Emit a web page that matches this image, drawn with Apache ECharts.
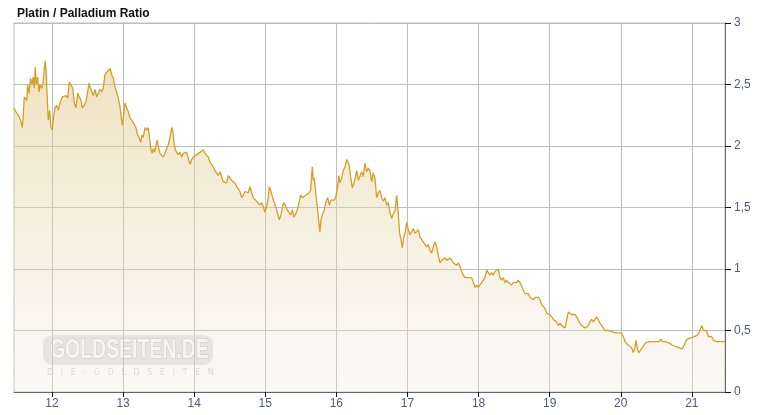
<!DOCTYPE html>
<html><head><meta charset="utf-8">
<script src="https://cdn.jsdelivr.net/npm/echarts@6/dist/echarts.min.js"></script>
<style>html,body{margin:0;padding:0;background:#fff}#c{width:757px;height:415px}</style>
</head><body><div id="c"></div>
<script>
const title = 'Platin / Palladium Ratio';
const yearTicks = [2012,2013,2014,2015,2016,2017,2018,2019,2020,2021];
const yTicks = [0,0.5,1,1.5,2,2.5,3];
const dates = [
2011.466,2011.480,2011.503,2011.536,2011.564,2011.582,2011.596,2011.610,2011.630,2011.644,2011.658,2011.677,2011.700,2011.719,2011.737,2011.751,2011.765,2011.779,2011.799,2011.817,2011.831,2011.855,2011.873,2011.892,2011.906,2011.920,2011.934,2011.948,2011.968,2011.986,
2012.004,2012.018,2012.042,2012.066,2012.089,2012.113,2012.145,2012.173,2012.197,2012.221,2012.243,2012.267,2012.291,2012.314,2012.338,2012.362,2012.384,2012.408,2012.426,2012.450,2012.478,2012.502,2012.520,2012.539,2012.563,2012.581,2012.605,2012.629,2012.651,2012.675,2012.699,2012.722,2012.745,2012.769,2012.792,2012.816,2012.840,2012.862,2012.886,2012.910,2012.933,2012.956,2012.971,2012.989,
2013.008,2013.026,2013.050,2013.073,2013.097,2013.121,2013.144,2013.181,2013.205,2013.224,2013.248,2013.266,2013.284,2013.308,2013.332,2013.354,2013.368,2013.392,2013.411,2013.425,2013.445,2013.463,2013.481,2013.501,2013.519,2013.543,2013.565,2013.589,2013.613,2013.636,2013.660,2013.684,2013.698,2013.716,2013.734,2013.754,2013.776,2013.800,2013.824,2013.847,2013.871,2013.895,2013.917,2013.941,2013.965,2013.987,
2014.011,2014.035,2014.058,2014.082,2014.106,2014.128,2014.152,2014.176,2014.198,2014.222,2014.246,2014.269,2014.293,2014.317,2014.339,2014.363,2014.387,2014.409,2014.433,2014.457,2014.480,2014.504,2014.528,2014.550,2014.574,2014.598,2014.620,2014.644,2014.668,2014.691,2014.715,2014.738,2014.761,2014.785,2014.809,2014.831,2014.855,2014.879,2014.902,2014.926,2014.949,2014.972,2014.996,
2015.020,2015.042,2015.056,2015.080,2015.104,2015.127,2015.150,2015.174,2015.197,2015.221,2015.245,2015.263,2015.287,2015.310,2015.333,2015.357,2015.380,2015.404,2015.428,2015.450,2015.474,2015.498,2015.520,2015.544,2015.568,2015.591,2015.615,2015.639,2015.661,2015.675,2015.689,2015.709,2015.731,2015.746,2015.769,2015.784,2015.807,2015.830,2015.854,2015.878,2015.900,2015.924,2015.948,2015.971,2015.994,
2016.018,2016.033,2016.051,2016.075,2016.097,2016.121,2016.145,2016.159,2016.177,2016.201,2016.224,2016.248,2016.272,2016.286,2016.308,2016.332,2016.356,2016.378,2016.402,2016.426,2016.449,2016.473,2016.497,2016.519,2016.543,2016.567,2016.590,2016.613,2016.637,2016.660,2016.684,2016.708,2016.730,2016.754,2016.778,2016.800,2016.824,2016.848,2016.871,2016.890,2016.909,2016.927,2016.947,2016.965,2016.989,
2017.011,2017.035,2017.059,2017.082,2017.106,2017.130,2017.152,2017.176,2017.200,2017.222,2017.246,2017.270,2017.293,2017.317,2017.341,2017.363,2017.387,2017.411,2017.433,2017.457,2017.481,2017.504,2017.528,2017.551,2017.574,2017.598,2017.622,2017.644,2017.668,2017.692,2017.715,2017.739,2017.763,2017.785,2017.809,2017.833,2017.855,2017.879,2017.903,2017.926,2017.950,2017.974,2017.996,
2018.020,2018.044,2018.066,2018.090,2018.114,2018.137,2018.161,2018.184,2018.207,2018.231,2018.255,2018.277,2018.301,2018.325,2018.348,2018.371,2018.395,2018.418,2018.442,2018.466,2018.488,2018.512,2018.536,2018.558,2018.582,2018.606,2018.629,2018.653,2018.677,2018.699,2018.723,2018.747,2018.770,2018.794,2018.817,2018.840,2018.864,2018.888,2018.910,2018.934,2018.958,2018.980,
2019.004,2019.028,2019.051,2019.074,2019.098,2019.121,2019.145,2019.169,2019.191,2019.215,2019.239,2019.262,2019.286,2019.310,2019.332,2019.356,2019.380,2019.402,2019.426,2019.450,2019.473,2019.497,2019.521,2019.543,2019.567,2019.591,2019.614,2019.637,2019.661,2019.684,2019.708,2019.732,2019.754,2019.778,2019.802,2019.824,2019.848,2019.872,2019.895,2019.919,2019.943,2019.965,2019.989,
2020.013,2020.035,2020.059,2020.083,2020.106,2020.130,2020.154,2020.176,2020.200,2020.214,2020.238,2020.256,2020.280,2020.303,2020.327,2020.350,2020.373,2020.397,2020.421,2020.443,2020.467,2020.491,2020.514,2020.537,2020.561,2020.584,2020.608,2020.632,2020.654,2020.678,2020.702,2020.725,2020.748,2020.772,2020.795,2020.819,2020.843,2020.865,2020.889,2020.913,2020.935,2020.959,2020.983,
2021.006,2021.030,2021.054,2021.076,2021.100,2021.124,2021.142,2021.160,2021.185,2021.208,2021.231,2021.255,2021.279,2021.301,2021.325,2021.349,2021.372,2021.395,2021.419,2021.442,2021.466
];
const ratio = [
2.31,2.29,2.27,2.24,2.20,2.15,2.24,2.40,2.41,2.37,2.50,2.43,2.55,2.50,2.56,2.47,2.64,2.50,2.56,2.44,2.50,2.47,2.50,2.63,2.69,2.58,2.39,2.21,2.29,2.15,
2.13,2.21,2.31,2.33,2.29,2.35,2.40,2.39,2.41,2.39,2.52,2.50,2.47,2.35,2.31,2.43,2.40,2.37,2.31,2.33,2.36,2.44,2.51,2.47,2.44,2.41,2.46,2.40,2.41,2.46,2.44,2.47,2.58,2.60,2.59,2.63,2.58,2.55,2.48,2.44,2.39,2.32,2.25,2.17,
2.25,2.35,2.35,2.28,2.23,2.24,2.19,2.15,2.09,2.07,2.03,2.09,2.07,2.15,2.13,2.15,2.09,1.97,1.94,1.98,1.95,2.01,2.05,1.98,1.94,1.93,1.91,1.94,1.98,2.01,2.07,2.15,2.13,2.03,1.97,1.95,1.93,1.95,1.91,1.94,1.93,1.95,1.90,1.85,1.89,1.91,
1.90,1.93,1.94,1.95,1.94,1.97,1.94,1.94,1.91,1.87,1.85,1.83,1.80,1.78,1.76,1.79,1.75,1.71,1.72,1.70,1.76,1.75,1.72,1.71,1.70,1.67,1.68,1.63,1.58,1.60,1.63,1.64,1.62,1.67,1.62,1.58,1.58,1.55,1.54,1.52,1.54,1.51,1.46,
1.51,1.58,1.67,1.63,1.58,1.54,1.50,1.45,1.40,1.44,1.51,1.54,1.51,1.48,1.46,1.44,1.48,1.42,1.45,1.48,1.54,1.60,1.58,1.59,1.60,1.59,1.62,1.64,1.83,1.72,1.74,1.62,1.51,1.42,1.30,1.40,1.45,1.48,1.55,1.58,1.52,1.56,1.55,1.56,1.59,
1.67,1.76,1.70,1.74,1.80,1.83,1.89,1.90,1.85,1.75,1.66,1.70,1.76,1.80,1.72,1.71,1.79,1.75,1.86,1.79,1.82,1.80,1.71,1.78,1.74,1.58,1.62,1.64,1.58,1.55,1.58,1.52,1.54,1.46,1.41,1.45,1.47,1.60,1.45,1.29,1.24,1.17,1.26,1.29,1.38,
1.32,1.28,1.30,1.33,1.29,1.30,1.32,1.26,1.25,1.22,1.20,1.18,1.20,1.15,1.13,1.18,1.22,1.18,1.11,1.05,1.07,1.06,1.09,1.07,1.06,1.09,1.07,1.05,1.06,1.03,1.05,1.02,0.98,0.95,0.93,0.93,0.93,0.93,0.93,0.93,0.85,0.87,0.85,
0.87,0.89,0.91,0.93,0.99,0.97,0.95,0.97,0.95,0.98,0.97,1.00,0.93,0.91,0.93,0.89,0.91,0.89,0.89,0.87,0.89,0.89,0.89,0.91,0.89,0.89,0.83,0.80,0.79,0.80,0.77,0.76,0.75,0.77,0.76,0.77,0.75,0.71,0.72,0.68,0.64,0.63,
0.63,0.61,0.59,0.60,0.57,0.54,0.56,0.54,0.53,0.52,0.53,0.65,0.64,0.63,0.64,0.63,0.61,0.60,0.56,0.54,0.53,0.52,0.53,0.54,0.57,0.59,0.57,0.59,0.61,0.60,0.56,0.54,0.53,0.50,0.51,0.50,0.50,0.49,0.49,0.48,0.47,0.48,0.49,
0.48,0.45,0.41,0.40,0.38,0.37,0.36,0.32,0.36,0.42,0.34,0.32,0.34,0.36,0.37,0.40,0.41,0.41,0.41,0.41,0.41,0.41,0.41,0.41,0.43,0.41,0.42,0.41,0.40,0.40,0.39,0.38,0.37,0.37,0.37,0.36,0.37,0.35,0.38,0.41,0.43,0.42,0.44,
0.43,0.45,0.45,0.46,0.48,0.52,0.54,0.50,0.49,0.50,0.45,0.44,0.45,0.42,0.41,0.41,0.41,0.41,0.40,0.41,0.41
];
const seriesData = dates.map((d, i) => [d, ratio[i]]);
const chart = echarts.init(document.getElementById('c'), null, {renderer: 'canvas'});
chart.setOption({
  animation: false,
  backgroundColor: '#ffffff',
  title: {text: title, left: 12, top: 3, textStyle: {fontFamily: 'Liberation Sans, Arial, sans-serif', fontSize: 12, fontWeight: 'bold', color: '#111'}},
  grid: {left: 14, right: 32, top: 23, bottom: 23, show: true, borderColor: '#bdbdbd', borderWidth: 1, backgroundColor: 'transparent'},
  graphic: [
    {type: 'rect', left: 43, top: 335, z: 0, shape: {width: 170, height: 30, r: 9}, style: {fill: 'rgba(160,160,160,0.27)'}},
    {type: 'text', x: 50, y: 337, scaleX: 0.72, z: 0, style: {text: 'GOLDSEITEN.DE', fill: 'rgba(255,255,255,0.9)', stroke: 'rgba(140,140,140,0.45)', lineWidth: 1, font: 'bold 27px "Liberation Sans", sans-serif'}},
    {type: 'text', x: 47, y: 369, z: 0, style: {text: 'D   I   E   ·   G   O   L   D   S   E   I   T   E   N', fill: 'rgba(150,150,150,0.45)', font: '8px "DejaVu Sans", sans-serif'}}
  ],
  xAxis: {
    type: 'value', min: 2011.466, max: 2021.466,
    axisLine: {show: true, lineStyle: {color: '#666', width: 1}},
    axisTick: {show: true, length: 5, lineStyle: {color: '#111'}, customValues: yearTicks},
    axisLabel: {customValues: yearTicks, formatter: v => String(Math.round(v) % 100), color: '#4d5a78', fontSize: 12, fontFamily: 'Liberation Sans, Arial, sans-serif', margin: 6},
    splitLine: {show: true, lineStyle: {color: '#bdbdbd', width: 1}}
  },
  yAxis: {
    type: 'value', position: 'right', min: 0, max: 3, interval: 0.5,
    axisLine: {show: true, lineStyle: {color: '#666', width: 1}},
    axisTick: {show: true, length: 6, lineStyle: {color: '#111'}},
    axisLabel: {formatter: v => String(v).replace('.', ','), color: '#4d5a78', fontSize: 12, fontFamily: 'Liberation Sans, Arial, sans-serif', margin: 9},
    splitLine: {show: true, lineStyle: {color: '#bdbdbd', width: 1}}
  },
  series: [{
    type: 'line', data: seriesData, showSymbol: false, symbol: 'none', z: 3,
    lineStyle: {color: '#d39f28', width: 1.3},
    areaStyle: {color: new echarts.graphic.LinearGradient(0, 0, 0, 1, [
      {offset: 0, color: 'rgba(224,196,126,0.7)'},
      {offset: 1, color: 'rgba(240,234,220,0.4)'}
    ])}
  }]
});
</script>
</body></html>
